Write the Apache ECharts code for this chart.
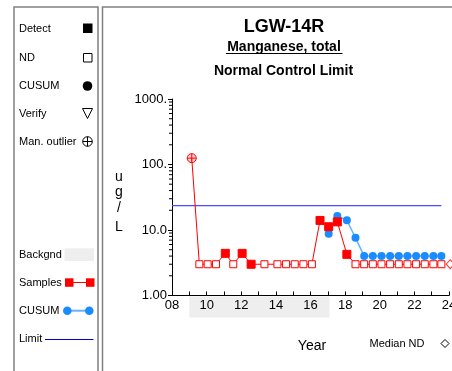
<!DOCTYPE html>
<html>
<head>
<meta charset="utf-8">
<script src="https://cdn.jsdelivr.net/npm/echarts@6/dist/echarts.min.js"></script>
<style>
html,body{margin:0;padding:0;background:#fff;}
#chart{width:452px;height:371px;}
</style>
</head>
<body>
<div id="chart"></div>
<script>
var chart = echarts.init(document.getElementById('chart'));
var FONT = 'Liberation Sans, Arial, sans-serif';

// years counted from 2000
var sampleYears = [9.14, 9.58, 10.06, 10.54, 11.08, 11.54, 12.05, 12.57, 13.34, 14.09, 14.59, 15.09, 15.59, 16.08,
    16.55, 17.05, 17.55, 18.1, 18.6, 19.1, 19.6, 20.1, 20.6, 21.1, 21.6, 22.1, 22.6, 23.1, 23.56];
var sampleValues = [125, 3, 3, 3, 4.4, 3, 4.4, 3, 3, 3, 3, 3, 3, 3,
    14, 11.2, 13.3, 4.25, 3, 3, 3, 3, 3, 3, 3, 3, 3, 3, 3];
// O = manual outlier, D = detect, N = non detect
var sampleFlags = ['O', 'N', 'N', 'N', 'D', 'N', 'D', 'D', 'N', 'N', 'N', 'N', 'N', 'N',
    'D', 'D', 'D', 'D', 'N', 'N', 'N', 'N', 'N', 'N', 'N', 'N', 'N', 'N', 'N'];
var cusumYears = [17.05, 17.55, 18.1, 18.6, 19.1, 19.6, 20.1, 20.6, 21.1, 21.6, 22.1, 22.6, 23.1, 23.56];
var cusumValues = [8.8, 16.3, 14.1, 7.6, 4.0, 4.0, 4.0, 4.0, 4.0, 4.0, 4.0, 4.0, 4.0, 4.0];
var limitValue = 23.5;
var limitRange = [8, 23.56];
var medianND = [[24.07, 3.0]];
var backgroundYears = [9.0, 17.1];
var yTickLabels = {1: '1.00', 10: '10.0', 100: '100.', 1000: '1000.'};
var yMinorValues = [];
[1, 10, 100].forEach(function (d) {
    for (var k = 2; k <= 9; k++) yMinorValues.push(d * k);
});

var sampleData = sampleYears.map(function (x, i) {
    var f = sampleFlags[i];
    var item = {value: [x, sampleValues[i]]};
    if (f === 'N') {
        item.symbol = 'rect';
        item.symbolSize = 7;
        item.itemStyle = {color: '#fff', borderColor: '#ff0000', borderWidth: 1};
    } else if (f === 'D') {
        item.symbol = 'rect';
        item.symbolSize = 8;
        item.itemStyle = {color: '#ff0000', borderColor: '#ff0000'};
    } else {
        item.symbol = 'path://M10,0A10,10 0 1,1 10,20A10,10 0 1,1 10,0ZM10,0L10,20M0,10L20,10';
        item.symbolSize = 9;
        item.itemStyle = {color: 'rgba(255,180,180,0.6)', borderColor: '#ff0000', borderWidth: 1};
    }
    return item;
});

// legend panel, frames, titles
var gfx = [];
function txt(t, x, y, font, align) {
    gfx.push({type: 'text', style: {text: t, font: font + ' ' + FONT, fill: '#000', x: x, y: y, align: align || 'left', verticalAlign: 'middle'}});
}
gfx.push({type: 'rect', shape: {x: 14, y: 7, width: 84, height: 380}, style: {fill: 'none', stroke: '#808080', lineWidth: 1.5}});
gfx.push({type: 'rect', shape: {x: 102.5, y: 7, width: 360, height: 380}, style: {fill: 'none', stroke: '#808080', lineWidth: 1.5}});
txt('Detect', 19, 28.5, '11px');
gfx.push({type: 'rect', shape: {x: 83, y: 23.5, width: 9.5, height: 9.5}, style: {fill: '#000'}});
txt('ND', 19, 58, '11px');
gfx.push({type: 'rect', shape: {x: 83.5, y: 53.5, width: 8.5, height: 8.5}, style: {fill: '#fff', stroke: '#000', lineWidth: 1}});
txt('CUSUM', 19, 86, '11px');
gfx.push({type: 'circle', shape: {cx: 87.5, cy: 86, r: 4.8}, style: {fill: '#000'}});
txt('Verify', 19, 113.5, '11px');
gfx.push({type: 'polygon', shape: {points: [[82.5, 108.5], [92.5, 108.5], [87.5, 118.5]]}, style: {fill: '#fff', stroke: '#000', lineWidth: 1}});
txt('Man. outlier', 19, 141.5, '11px');
gfx.push({type: 'circle', shape: {cx: 87.5, cy: 141.5, r: 4.8}, style: {fill: 'none', stroke: '#000', lineWidth: 1}});
gfx.push({type: 'polyline', shape: {points: [[87.5, 136.7], [87.5, 146.3]]}, style: {stroke: '#000', lineWidth: 1}});
gfx.push({type: 'polyline', shape: {points: [[82.7, 141.5], [92.3, 141.5]]}, style: {stroke: '#000', lineWidth: 1}});
txt('Backgnd', 19, 255, '11px');
gfx.push({type: 'rect', shape: {x: 64.5, y: 248.3, width: 29.5, height: 12.7}, style: {fill: '#eeeeee'}});
txt('Samples', 19, 282.7, '11px');
gfx.push({type: 'polyline', shape: {points: [[69, 282.5], [90, 282.5]]}, style: {stroke: '#ff0000', lineWidth: 1}});
gfx.push({type: 'rect', shape: {x: 65, y: 278.3, width: 8.5, height: 8.5}, style: {fill: '#ff0000'}});
gfx.push({type: 'rect', shape: {x: 86, y: 278.3, width: 8.5, height: 8.5}, style: {fill: '#ff0000'}});
txt('CUSUM', 19, 310.7, '11px');
gfx.push({type: 'polyline', shape: {points: [[67, 310.7], [89, 310.7]]}, style: {stroke: '#66b2ff', lineWidth: 2}});
gfx.push({type: 'circle', shape: {cx: 67.3, cy: 310.7, r: 4.3}, style: {fill: '#1a8cff'}});
gfx.push({type: 'circle', shape: {cx: 89.3, cy: 310.7, r: 4.3}, style: {fill: '#1a8cff'}});
txt('Limit', 19, 339, '11px');
gfx.push({type: 'polyline', shape: {points: [[45, 339.5], [93.5, 339.5]]}, style: {stroke: '#0000dd', lineWidth: 1}});

txt('LGW-14R', 284, 27.5, 'bold 18px', 'center');
txt('Manganese, total', 284, 46.7, 'bold 14px', 'center');
gfx.push({type: 'polyline', shape: {points: [[226, 53.5], [342.5, 53.5]]}, style: {stroke: '#000', lineWidth: 1}});
txt('Normal Control Limit', 283.5, 71.5, 'bold 14px', 'center');
['u', 'g', '/', 'L'].forEach(function (c, i) {
    txt(c, 119, [177, 192, 208, 227][i], '14px', 'center');
});
txt('Year', 312, 346, '14px', 'center');
txt('Median ND', 397, 343.5, '11px', 'center');
gfx.push({type: 'polygon', shape: {points: [[445, 339.5], [449, 343.5], [445, 347.5], [441, 343.5]]}, style: {fill: '#fff', stroke: '#000', lineWidth: 1}});

var option = {
    backgroundColor: '#fff',
    animation: false,
    textStyle: {fontFamily: FONT},
    grid: {left: 172, right: 3, top: 99, bottom: 75.5, outerBoundsMode: 'none', containLabel: false},
    xAxis: {
        type: 'value', min: 8, max: 24, interval: 2,
        axisLine: {lineStyle: {color: '#000', width: 1}},
        axisTick: {inside: true, length: 4, lineStyle: {color: '#000'}},
        minorTick: {show: true, splitNumber: 2, length: 4, lineStyle: {color: '#000'}},
        splitLine: {show: false},
        axisLabel: {
            color: '#000', fontSize: 13, margin: 3, showMaxLabel: true, hideOverlap: false,
            formatter: function (v) { return (v < 10 ? '0' : '') + v; }
        }
    },
    yAxis: {
        type: 'log', logBase: 10, min: 1, max: 1000,
        axisLine: {show: true, lineStyle: {color: '#000', width: 1}},
        axisTick: {show: true, length: 4, lineStyle: {color: '#000'}},
        splitLine: {show: false},
        axisLabel: {
            color: '#000', fontSize: 13, margin: 5,
            formatter: function (v) { return yTickLabels[Math.round(v)] || ''; }
        }
    },
    graphic: gfx,
    series: [
        {
            name: 'Limit', type: 'line', symbol: 'none', z: 1,
            lineStyle: {color: '#4a4aff', width: 1.3},
            data: [[limitRange[0], limitValue], [limitRange[1], limitValue]]
        },
        {
            name: 'minor', type: 'custom', clip: false, silent: true,
            data: yMinorValues.map(function (v) { return [8, v]; }),
            renderItem: function (params, api) {
                var p = api.coord([api.value(0), api.value(1)]);
                return {type: 'line', shape: {x1: p[0] - 3, y1: p[1], x2: p[0], y2: p[1]}, style: {stroke: '#000', lineWidth: 1}};
            }
        },
        {
            name: 'CUSUM', type: 'line', z: 3,
            symbol: 'circle', symbolSize: 8,
            itemStyle: {color: '#1a8cff'},
            lineStyle: {color: '#66b2ff', width: 1.5},
            data: cusumYears.map(function (x, i) { return [x, cusumValues[i]]; })
        },
        {
            name: 'Samples', type: 'line', z: 4,
            lineStyle: {color: '#ff0000', width: 1},
            data: sampleData
        },
        {
            name: 'Median ND', type: 'scatter', clip: false, z: 4,
            symbol: 'diamond', symbolSize: [8, 9],
            itemStyle: {color: '#fff', borderColor: '#ff0000', borderWidth: 1},
            data: medianND
        }
    ]
};
chart.setOption(option);

// grey background band under the x labels
var bx0 = chart.convertToPixel({xAxisIndex: 0}, backgroundYears[0]);
var bx1 = chart.convertToPixel({xAxisIndex: 0}, backgroundYears[1]);
var by0 = chart.convertToPixel({yAxisIndex: 0}, 1);
gfx.unshift({type: 'rect', z: -10, shape: {x: bx0, y: by0 + 1, width: bx1 - bx0, height: 21}, style: {fill: '#eeeeee'}});
chart.setOption({graphic: gfx}, {replaceMerge: ['graphic']});
</script>
</body>
</html>
